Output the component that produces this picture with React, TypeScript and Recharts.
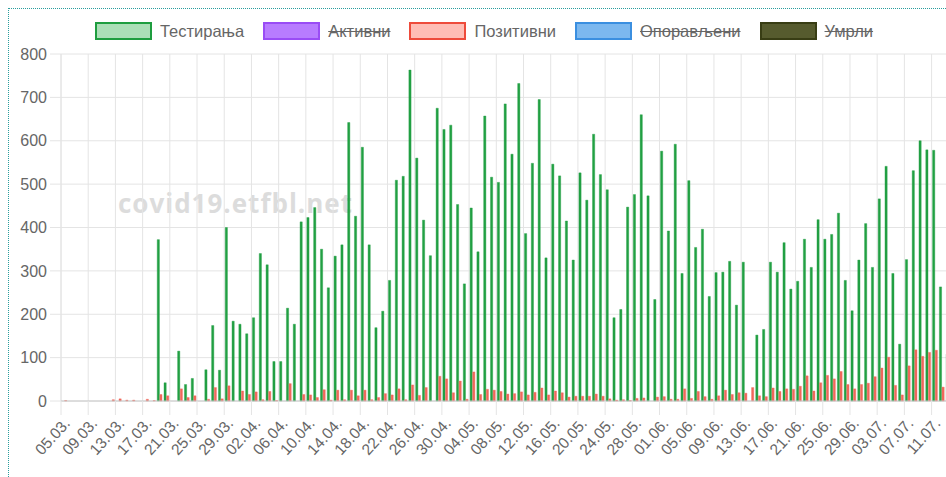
import React from "react";
import { BarChart, Bar, XAxis, YAxis, CartesianGrid, Legend } from "recharts";

const march = "05.03. 06.03. 07.03. 08.03. 09.03. 10.03. 11.03. 12.03. 13.03. 14.03. 15.03. 16.03. 17.03. 18.03. 19.03. 20.03. 21.03. 22.03. 23.03. 24.03. 25.03. 26.03. 27.03. 28.03. 29.03. 30.03. 31.03.";
const april = "01.04. 02.04. 03.04. 04.04. 05.04. 06.04. 07.04. 08.04. 09.04. 10.04. 11.04. 12.04. 13.04. 14.04. 15.04. 16.04. 17.04. 18.04. 19.04. 20.04. 21.04. 22.04. 23.04. 24.04. 25.04. 26.04. 27.04. 28.04. 29.04. 30.04.";
const may = "01.05. 02.05. 03.05. 04.05. 05.05. 06.05. 07.05. 08.05. 09.05. 10.05. 11.05. 12.05. 13.05. 14.05. 15.05. 16.05. 17.05. 18.05. 19.05. 20.05. 21.05. 22.05. 23.05. 24.05. 25.05. 26.05. 27.05. 28.05. 29.05. 30.05. 31.05.";
const june = "01.06. 02.06. 03.06. 04.06. 05.06. 06.06. 07.06. 08.06. 09.06. 10.06. 11.06. 12.06. 13.06. 14.06. 15.06. 16.06. 17.06. 18.06. 19.06. 20.06. 21.06. 22.06. 23.06. 24.06. 25.06. 26.06. 27.06. 28.06. 29.06. 30.06.";
const july = "01.07. 02.07. 03.07. 04.07. 05.07. 06.07. 07.07. 08.07. 09.07. 10.07. 11.07. 12.07. 13.07.";

const dates = [march, april, may, june, july].join(" ").split(" ");

// Тестирања
const tests = [
  0, 0, 0, 0, 0, 0, 0, 0, 0, 0, 0, 0, 0, 0, 372, 42, 0, 115, 38, 52,
  0, 72, 174, 71, 400, 184, 177, 155, 192, 340, 314, 91, 91, 214, 177, 413, 423, 446, 350, 261,
  334, 360, 642, 426, 585, 360, 169, 207, 278, 509, 518, 763, 560, 417, 335, 675, 626, 636, 453, 270,
  445, 344, 657, 516, 504, 685, 569, 732, 386, 548, 695, 330, 546, 519, 415, 325, 526, 463, 615, 522,
  487, 192, 211, 447, 476, 660, 473, 234, 576, 392, 592, 294, 508, 354, 396, 241, 296, 297, 322, 221,
  320, 0, 152, 165, 320, 297, 365, 258, 276, 373, 308, 418, 373, 384, 433, 278, 208, 325, 409, 308,
  466, 541, 294, 131, 326, 531, 600, 579, 578, 263, 108,
];

// Позитивни
const positive = [
  1, 0, 0, 0, 0, 0, 0, 3, 5, 2, 2, 0, 4, 1, 15, 12, 0, 28, 8, 12,
  0, 4, 31, 5, 35, 0, 23, 15, 21, 3, 22, 1, 0, 40, 0, 15, 14, 8, 26, 2,
  25, 3, 25, 12, 25, 3, 8, 17, 14, 28, 3, 37, 13, 31, 0, 57, 51, 19, 46, 4,
  67, 15, 27, 25, 22, 16, 17, 21, 14, 20, 30, 14, 23, 19, 9, 11, 11, 11, 16, 11,
  5, 2, 3, 1, 6, 7, 0, 9, 10, 4, 4, 28, 6, 22, 10, 4, 12, 25, 15, 19,
  18, 31, 12, 10, 30, 22, 28, 27, 34, 58, 23, 42, 59, 51, 68, 38, 28, 38, 41, 56,
  76, 101, 36, 14, 81, 118, 103, 112, 117, 32, 30,
];

const yTicks = [0, 100, 200, 300, 400, 500, 600, 700, 800];

const legendItems = [
  { name: "Тестирања", fill: "#abdfb7", stroke: "#1e9d3f", hidden: false },
  { name: "Активни", fill: "#b87cff", stroke: "#9a4cf5", hidden: true },
  { name: "Позитивни", fill: "#ffbdb5", stroke: "#ee4b3b", hidden: false },
  { name: "Опорављени", fill: "#7cb8ef", stroke: "#3b8fe0", hidden: true },
  { name: "Умрли", fill: "#565b2e", stroke: "#383d14", hidden: true },
];

const data = dates.map((date, i) => ({ date, tests: tests[i], positive: positive[i] }));

const FONT = '"Liberation Sans", Arial, Helvetica, sans-serif';
const W = 950;
const H = 461;
const MARGIN = { top: 10, right: 7, bottom: 9, left: 0 };
const Y_W = 52;
const band = (W - MARGIN.left - MARGIN.right - Y_W) / dates.length;
const GRID = "#e4e4e4";

const DateTick = (props: any) => {
  const { x, y, payload } = props;
  const gx = x - band / 2;
  const tx = x + 6.5;
  const ty = y + 23;
  return (
    <g>
      <line x1={gx} y1={y} x2={gx} y2={y + 14} stroke={GRID} />
      <text
        x={tx}
        y={ty}
        transform={`rotate(-48 ${tx} ${ty})`}
        textAnchor="end"
        fill="#666"
        fontSize={15.5}
        fontFamily={FONT}
      >
        {payload.value}
      </text>
    </g>
  );
};

const LegendContent = () => (
  <div
    style={{
      height: 35,
      boxSizing: "border-box",
      paddingTop: 3,
      display: "flex",
      justifyContent: "center",
      alignItems: "flex-start",
      fontFamily: FONT,
      fontSize: 16.5,
      color: "#666",
    }}
  >
    {legendItems.map((item, i) => (
      <div
        key={item.name}
        style={{ display: "flex", alignItems: "center", marginRight: i < legendItems.length - 1 ? 19 : 0 }}
      >
        <span
          style={{
            display: "inline-block",
            width: 57,
            height: 18,
            boxSizing: "border-box",
            background: item.fill,
            border: `2.5px solid ${item.stroke}`,
            marginRight: 8,
          }}
        />
        <span style={{ textDecoration: item.hidden ? "line-through" : "none", lineHeight: "18px" }}>
          {item.name}
        </span>
      </div>
    ))}
  </div>
);

export default function App() {
  return (
    <div style={{ width: 946, height: 477, overflow: "hidden", position: "relative" }}>
      <style>{"html{overflow:hidden} body{margin:0}"}</style>
      <div
        style={{
          position: "absolute",
          left: 8,
          top: 8,
          width: 937,
          height: 468,
          overflow: "hidden",
          borderTop: "1px dotted #2a9d9d",
          borderLeft: "1px dotted #2a9d9d",
          background: "#fff",
        }}
      >
        <svg width={937} height={468} style={{ position: "absolute", left: 0, top: 0 }}>
          <text
            x={109}
            y={204}
            fontFamily='"Open Sans", sans-serif'
            fontWeight={700}
            fontSize={26}
            fill="#dcdcdc"
            textLength={234}
            lengthAdjust="spacing"
          >
            covid19.etfbl.net
          </text>
        </svg>
        <div style={{ position: "absolute", left: 0, top: 0 }}>
          <BarChart width={W} height={H} data={data} margin={MARGIN} barGap={0.4}>
            <CartesianGrid
              stroke={GRID}
              verticalCoordinatesGenerator={({ offset }: any) =>
                dates.map((_, i) => i).filter((i) => i % 4 === 0).map((i) => offset.left + i * band)
              }
            />
            <Legend
              verticalAlign="top"
              content={<LegendContent />}
              wrapperStyle={{ left: 0, width: W }}
            />
            <YAxis
              type="number"
              domain={[0, 800]}
              ticks={yTicks}
              interval={0}
              width={Y_W}
              tickSize={11}
              tickMargin={3}
              tickLine={{ stroke: GRID }}
              axisLine={{ stroke: GRID }}
              tick={{ fill: "#666", fontSize: 16, fontFamily: FONT }}
            />
            <XAxis
              dataKey="date"
              interval={3}
              height={60}
              tickSize={0}
              tickMargin={0}
              tickLine={false}
              axisLine={{ stroke: "#c8c8c8" }}
              tick={<DateTick />}
            />
            <Bar dataKey="tests" fill="#22a043" stroke="#22a043" strokeWidth={0.4} barSize={2.2} isAnimationActive={false} />
            <Bar dataKey="positive" fill="#f0685b" stroke="#f0685b" strokeWidth={0.4} barSize={2.2} isAnimationActive={false} />
          </BarChart>
        </div>
      </div>
    </div>
  );
}
